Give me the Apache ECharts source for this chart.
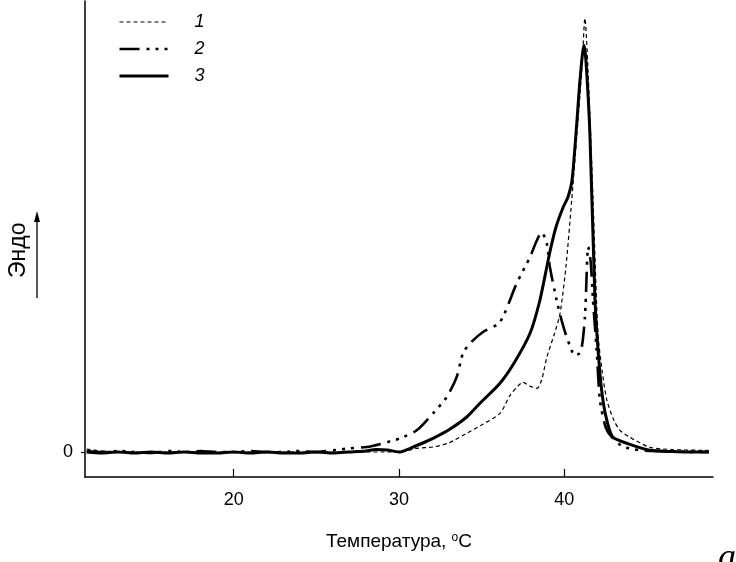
<!DOCTYPE html>
<html>
<head>
<meta charset="utf-8">
<script src="https://cdn.jsdelivr.net/npm/echarts@6/dist/echarts.min.js"></script>
<style>html,body{margin:0;padding:0;background:#fff}#c{width:736px;height:562px}</style>
</head>
<body>
<div id="c"></div>
<script>
// Temperature (°C) and heat-flow (arbitrary units) for each curve
var temps1 = [11.1, 12, 14, 16, 18, 20, 22, 24, 26, 28, 29, 30.06, 31.07, 32.06, 33, 34.1, 35, 36.11, 36.72, 37.2, 37.5, 37.9, 38.35, 38.63, 38.95, 39.4, 39.74, 40.1, 40.45, 40.77, 41.07, 41.25, 41.43, 41.74, 42.04, 42.3, 42.58, 43, 43.37, 43.97, 45.18, 46.5, 48.2, 48.75];
var vals1  = [3, 1, 0, 0, 0, 0, 0, 0, 0, 0, 0, 0, 3.7, 5, 9, 18.7, 27, 38.7, 56.7, 66, 69.7, 66, 63.7, 72, 95, 118, 138, 185, 251.7, 318.7, 384.7, 433.7, 384.7, 251.7, 118.7, 80, 51.7, 32, 21.7, 14.7, 4.7, 2.5, 1.7, 1.5];

var temps2 = [11.1, 12, 13, 14, 15, 16, 17, 18, 19, 20, 21, 22, 23, 24, 25, 26, 27.04, 28.05, 29.03, 30.06, 31.07, 32.06, 32.89, 33.49, 33.87, 34.3, 35.08, 36.11, 37.12, 37.93, 38.3, 38.63, 38.94, 39.13, 39.54, 39.84, 40.15, 40.65, 41.0, 41.25, 41.45, 41.6, 41.74, 41.96, 42.16, 42.5, 42.87, 43.5, 44.58, 46, 48, 48.75];
var vals2  = [1, 0, 1, 0, -1, 1, 0, 1, 0, 0, 1, 0, 0, 1, 0, 1.7, 3.7, 5, 8.7, 13.7, 21.7, 38.7, 55, 75, 98.7, 108.7, 120, 130, 168.7, 195, 210, 219.7, 208.7, 185, 151.7, 131.7, 115, 96.7, 100, 135, 205, 190, 151.7, 101.7, 51.7, 25, 15, 6, 1.7, 1, 0, 0];

var temps3 = [11.1, 12, 13, 14, 15, 16, 17, 18, 19, 20, 21, 22, 23, 24, 25, 26, 27, 28, 28.6, 29.3, 30, 30.67, 31.3, 32.06, 33, 34.1, 34.9, 36.11, 37, 37.93, 38.5, 38.94, 39.15, 39.5, 39.94, 40.22, 40.47, 40.77, 40.95, 41.19, 41.31, 41.55, 41.86, 42.1, 42.34, 42.6, 42.95, 43.8, 45.18, 46.5, 48, 48.75];
var vals3  = [0, -1, 0, -1, 0, -1, 0, -1, -1, 0, -1, 0, -1, -1, 0, -1, 0, 1, 2.5, 2, 0, 3.7, 8, 13.7, 22, 35, 48.7, 68.7, 90, 118.7, 150, 184.7, 201.7, 225, 245, 254.7, 271.7, 331.7, 371.7, 406.7, 391.7, 318.7, 151.7, 90, 51.7, 30, 14.7, 8.7, 1.7, 0.5, 0, 0];

var seriesNames = ['1', '2', '3'];
var xTicks = [20, 30, 40];
var yTicks = [0];

function zip(a, b) { return a.map(function (v, i) { return [v, b[i]]; }); }

var chart = echarts.init(document.getElementById('c'), null, {renderer: 'canvas'});
var FONT = '"Liberation Sans", Arial, sans-serif';

var styles = [
  {color: '#000', width: 1.2, type: [4, 3]},
  {color: '#000', width: 2.6, type: [20, 7, 3, 6, 3, 6, 3, 7]},
  {color: '#000', width: 3, type: 'solid'}
];

chart.setOption({
  animation: false,
  backgroundColor: '#fff',
  grid: {left: 85, right: 23, top: 1, bottom: 85, containLabel: false},
  legend: {
    orient: 'vertical', left: 118, top: 13, padding: 0,
    itemWidth: 49, itemHeight: 14, itemGap: 9,
    data: seriesNames.map(function (n, i) { return {name: n, lineStyle: styles[i]}; }),
    itemStyle: {opacity: 0},
    textStyle: {fontFamily: FONT, fontStyle: 'italic', fontSize: 18, color: '#000', padding: [0, 0, 0, 21]}
  },
  xAxis: {
    type: 'value', min: 11, max: 49,
    name: 'Температура, {sup|o}C',
    nameLocation: 'middle', nameGap: 55,
    nameTextStyle: {fontFamily: FONT, fontSize: 19, color: '#000',
      rich: {sup: {fontFamily: FONT, fontSize: 12, color: '#000', verticalAlign: 'top', padding: [0, 0, 8, 0]}}},
    axisLine: {onZero: false, lineStyle: {color: '#000', width: 1.5}},
    axisTick: {inside: true, length: 8, lineStyle: {color: '#000', width: 1.2}, customValues: xTicks},
    axisLabel: {fontFamily: FONT, fontSize: 18, color: '#000', margin: 14, customValues: xTicks},
    splitLine: {show: false}
  },
  yAxis: {
    type: 'value', min: -25, max: 451,
    axisLine: {show: true, onZero: false, lineStyle: {color: '#000', width: 1.5}},
    axisTick: {show: true, inside: false, length: 4, lineStyle: {color: '#000', width: 1.2}, customValues: yTicks},
    axisLabel: {fontFamily: FONT, fontSize: 18, color: '#000', margin: 12, customValues: yTicks},
    splitLine: {show: false}
  },
  graphic: [
    {type: 'text', rotation: Math.PI / 2, originX: 0, originY: 0, position: [7, 278],
      style: {text: 'Эндо', font: '23px "Liberation Sans", Arial, sans-serif', fill: '#000'}},
    {type: 'line', shape: {x1: 37, y1: 298, x2: 37, y2: 220}, style: {stroke: '#000', lineWidth: 1.3}},
    {type: 'polygon', shape: {points: [[37, 211], [34, 222], [40, 222]]}, style: {fill: '#000'}},
    {type: 'text', position: [718, 541],
      style: {text: 'а', font: 'italic 36px "Liberation Serif", "Times New Roman", serif', fill: '#000'}}
  ],
  series: seriesNames.map(function (n, i) {
    var t = [temps1, temps2, temps3][i], v = [vals1, vals2, vals3][i];
    return {name: n, type: 'line', data: zip(t, v), symbol: 'none', smooth: 0.25,
      itemStyle: {color: '#000'}, lineStyle: styles[i]};
  })
});
</script>
</body>
</html>
